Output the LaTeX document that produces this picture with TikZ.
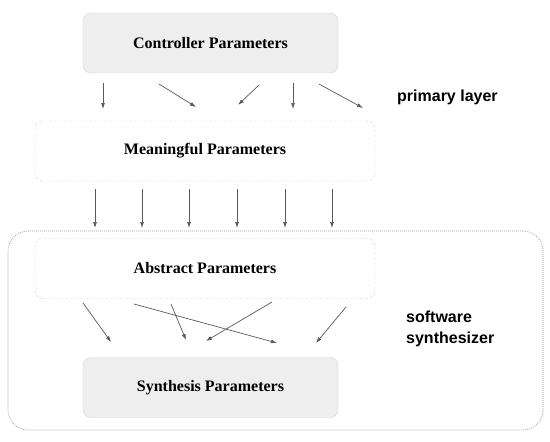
\documentclass[tikz,border=0pt]{standalone}
\usepackage{fontspec}
\setmainfont{Liberation Serif}
\setsansfont{Liberation Sans}
\usepackage{tikz}
\usetikzlibrary{arrows.meta, positioning}
\definecolor{boxFill}{HTML}{EEEEEE}
\definecolor{boxLine}{HTML}{D4D4D4}
\definecolor{arrowGray}{HTML}{5A5A5A}
\definecolor{frameGray}{HTML}{9C9C9C}

\begin{document}
\begin{tikzpicture}[x=1pt, y=-1pt,
  param/.style={draw=boxLine, rounded corners=8pt, fill=boxFill, inner sep=0pt, minimum width=255pt, minimum height=60pt, font=\fontsize{16}{18}\selectfont\bfseries},
  soft/.style={param, fill=none, dash pattern=on 3pt off 2pt, minimum width=340pt},
  frame/.style={draw=frameGray, line width=0.6pt, dash pattern=on 1pt off 1pt, rounded corners=20pt, inner sep=0pt, minimum width=535pt, minimum height=199pt},
  link/.style={-{Latex[length=6pt, width=4pt]}, arrowGray, line width=0.7pt},
  note/.style={font=\sffamily\bfseries\fontsize{16}{20.5}\selectfont, align=left, anchor=west, inner sep=0pt},
]
  \useasboundingbox (0,0) rectangle (550,442);

  \node[frame] (synth) at (275.5,330.5) {};
  \node[param] (ctrl) at (210.5,43) {Controller Parameters};
  \node[soft] (mean) at (205,151) {Meaningful Parameters};
  \node[soft] (abst) at (205,268.5) {Abstract Parameters};
  \node[param] (synp) at (210.5,387.5) {Synthesis Parameters};

  \node[note] (primary) at (397,97) {primary layer};
  \node[note] (software) at (406,329) {software\\synthesizer};

  % controller -> meaningful
  \foreach \i/\sx/\sy/\ex/\ey in {1/103/83/103/109, 2/159/84/196/107, 3/259/85/238/105,
      4/293/83/293/109, 5/319/84/363/108} {
    \coordinate (cs\i) at (\sx,\sy);
    \coordinate (ce\i) at (\ex,\ey);
    \draw[link] (cs\i) -- (ce\i);
  }
  % meaningful -> abstract
  \foreach \i/\x in {1/95, 2/142, 3/189, 4/237, 5/285, 6/332} {
    \coordinate (ms\i) at (\x,189);
    \coordinate (me\i) at (\x,228);
    \draw[link] (ms\i) -- (me\i);
  }
  % abstract -> synthesis
  \foreach \i/\sx/\sy/\ex/\ey in {1/83/303/111/342, 2/134/304/277/343, 3/171/304/186/340,
      4/272/302/206/341, 5/346/307/316/343} {
    \coordinate (as\i) at (\sx,\sy);
    \coordinate (ae\i) at (\ex,\ey);
    \draw[link] (as\i) -- (ae\i);
  }
\end{tikzpicture}
\end{document}
